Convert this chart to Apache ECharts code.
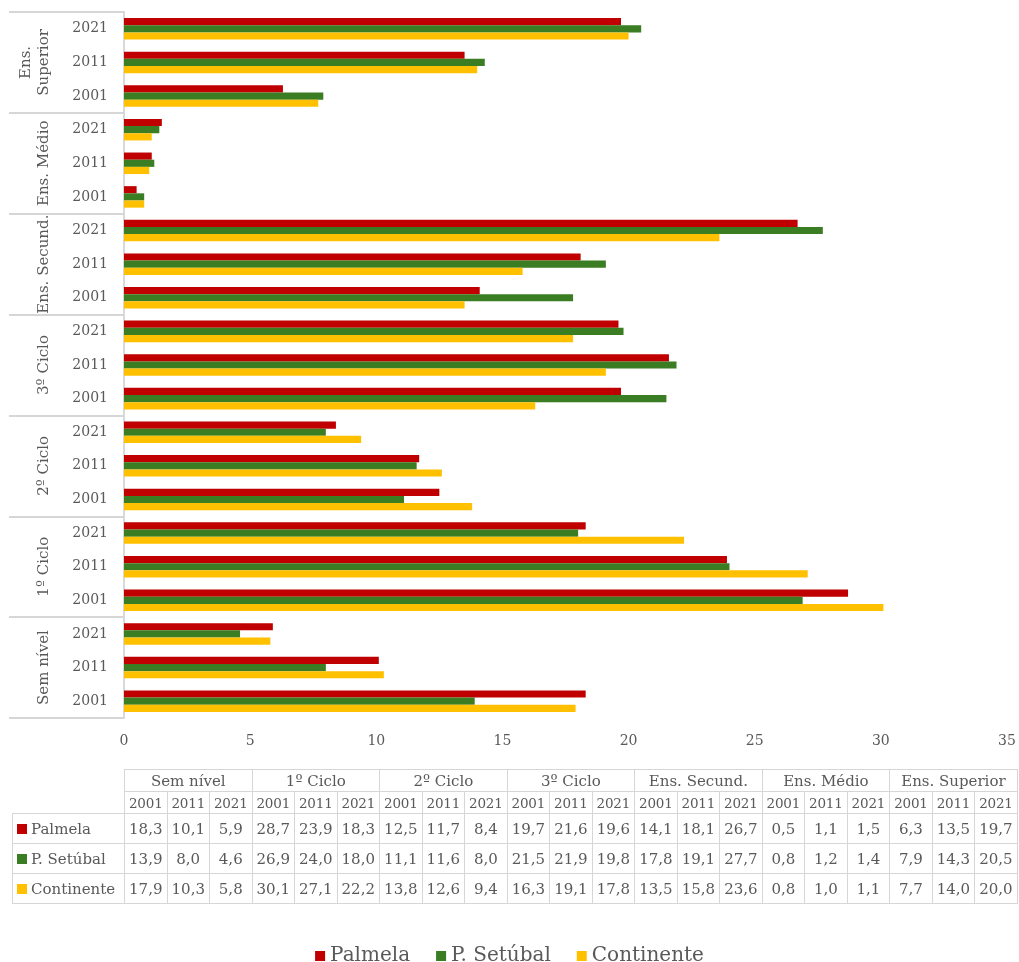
<!DOCTYPE html>
<html>
<head>
<meta charset="utf-8">
<script src="https://cdn.jsdelivr.net/npm/echarts@6/dist/echarts.min.js"></script>
<style>
  html, body { margin: 0; padding: 0; background: #fff; }
  #wrap { position: relative; width: 1019px; height: 962px; }
  #chart { position: absolute; left: 0; top: 0; width: 1019px; height: 962px; }
  #tbl { position: absolute; left: 12px; top: 769px; border-collapse: collapse; table-layout: fixed;
         font-family: "DejaVu Serif", serif; color: #595959; }
  #tbl td { border: 1.5px solid #d6d6d6; text-align: center; padding: 0; white-space: nowrap; overflow: hidden; }
  #tbl td.blank { border: none; }
  #tbl tr.h1 td { height: 21px; font-size: 15px; }
  #tbl tr.h2 td { height: 21px; font-size: 13.5px; letter-spacing: -0.2px; }
  #tbl tr.d td { height: 29px; font-size: 15px; }
  #tbl td.lab { text-align: left; padding-left: 4px; }
  .key { display: inline-block; width: 10px; height: 10px; margin-right: 4px; vertical-align: 0px; }
</style>
</head>
<body>
<div id="wrap">
  <div id="chart"></div>
  <table id="tbl"></table>
</div>
<script>
// ---- data ----
const levels = ['Sem nível', '1º Ciclo', '2º Ciclo', '3º Ciclo', 'Ens. Secund.', 'Ens. Médio', 'Ens. Superior'];
const years = ['2001', '2011', '2021'];
const seriesNames = ['Palmela', 'P. Setúbal', 'Continente'];
const palmela    = [18.3, 10.1, 5.9, 28.7, 23.9, 18.3, 12.5, 11.7, 8.4, 19.7, 21.6, 19.6, 14.1, 18.1, 26.7, 0.5, 1.1, 1.5, 6.3, 13.5, 19.7];
const setubal    = [13.9, 8.0, 4.6, 26.9, 24.0, 18.0, 11.1, 11.6, 8.0, 21.5, 21.9, 19.8, 17.8, 19.1, 27.7, 0.8, 1.2, 1.4, 7.9, 14.3, 20.5];
const continente = [17.9, 10.3, 5.8, 30.1, 27.1, 22.2, 13.8, 12.6, 9.4, 16.3, 19.1, 17.8, 13.5, 15.8, 23.6, 0.8, 1.0, 1.1, 7.7, 14.0, 20.0];
const xTicks = [0, 5, 10, 15, 20, 25, 30, 35];
const colors = ['#C00000', '#3A7D22', '#FFC000'];
const values = [palmela, setubal, continente];

// category keys (level|year)
const cats = [];
levels.forEach(l => years.forEach(y => cats.push(l + '|' + y)));

const FONT = '"DejaVu Serif", serif';
const GRAY = '#595959';

const chart = echarts.init(document.getElementById('chart'), null, { renderer: 'canvas' });
chart.setOption({
  animation: false,
  textStyle: { fontFamily: FONT, color: GRAY },
  grid: { left: 124, right: 12, top: 12, bottom: 244, containLabel: false },
  legend: {
    data: seriesNames,
    top: 941,
    left: 'center',
    icon: 'rect',
    itemWidth: 10,
    itemHeight: 10,
    itemGap: 26,
    textStyle: { fontFamily: FONT, fontSize: 20, color: GRAY }
  },
  xAxis: {
    type: 'value',
    min: xTicks[0],
    max: xTicks[xTicks.length - 1],
    interval: xTicks[1] - xTicks[0],
    axisLine: { show: false },
    axisTick: { show: false },
    splitLine: { show: false },
    axisLabel: { fontFamily: FONT, fontSize: 14, color: GRAY, margin: 16 }
  },
  yAxis: [
    {
      type: 'category',
      data: cats,
      position: 'left',
      axisLine: { show: true, lineStyle: { color: '#d9d9d9', width: 2 } },
      axisTick: { show: false },
      axisLabel: {
        interval: 0,
        fontFamily: FONT, fontSize: 14, color: GRAY, margin: 16,
        formatter: v => v.split('|')[1]
      }
    },
    {
      type: 'category',
      data: levels,
      position: 'left',
      offset: 0,
      axisLine: { show: false },
      axisTick: { show: true, interval: 0, length: 115, lineStyle: { color: '#d6d6d6', width: 2 } },
      axisLabel: {
        interval: 0,
        hideOverlap: false,
        rotate: 90,
        margin: 71,
        fontFamily: FONT, fontSize: 15, color: GRAY, lineHeight: 18,
        formatter: v => (v.length > 12 ? v.replace(' ', '\n') : v)
      }
    }
  ],
  series: seriesNames.map((n, i) => ({
    name: n,
    type: 'bar',
    yAxisIndex: 0,
    data: values[i],
    barGap: '0%',
    barCategoryGap: '36%',
    itemStyle: { color: colors[i] }
  }))
});

// ---- table ----
const fmt = v => v.toFixed(1).replace('.', ',');
const tbl = document.getElementById('tbl');
let html = '<colgroup><col style="width:112px">';
for (let i = 0; i < levels.length * years.length; i++) html += '<col style="width:42.5px">';
html += '</colgroup>';
html += '<tr class="h1"><td class="blank"></td>' + levels.map(l => '<td colspan="3">' + l + '</td>').join('') + '</tr>';
html += '<tr class="h2"><td class="blank"></td>' + levels.map(() => years.map(y => '<td>' + y + '</td>').join('')).join('') + '</tr>';
seriesNames.forEach((n, i) => {
  html += '<tr class="d"><td class="lab"><span class="key" style="background:' + colors[i] + '"></span>' + n + '</td>' +
    values[i].map(v => '<td>' + fmt(v) + '</td>').join('') + '</tr>';
});
tbl.innerHTML = html;
tbl.style.width = (112 + 42.5 * 21) + 'px';
</script>
</body>
</html>
